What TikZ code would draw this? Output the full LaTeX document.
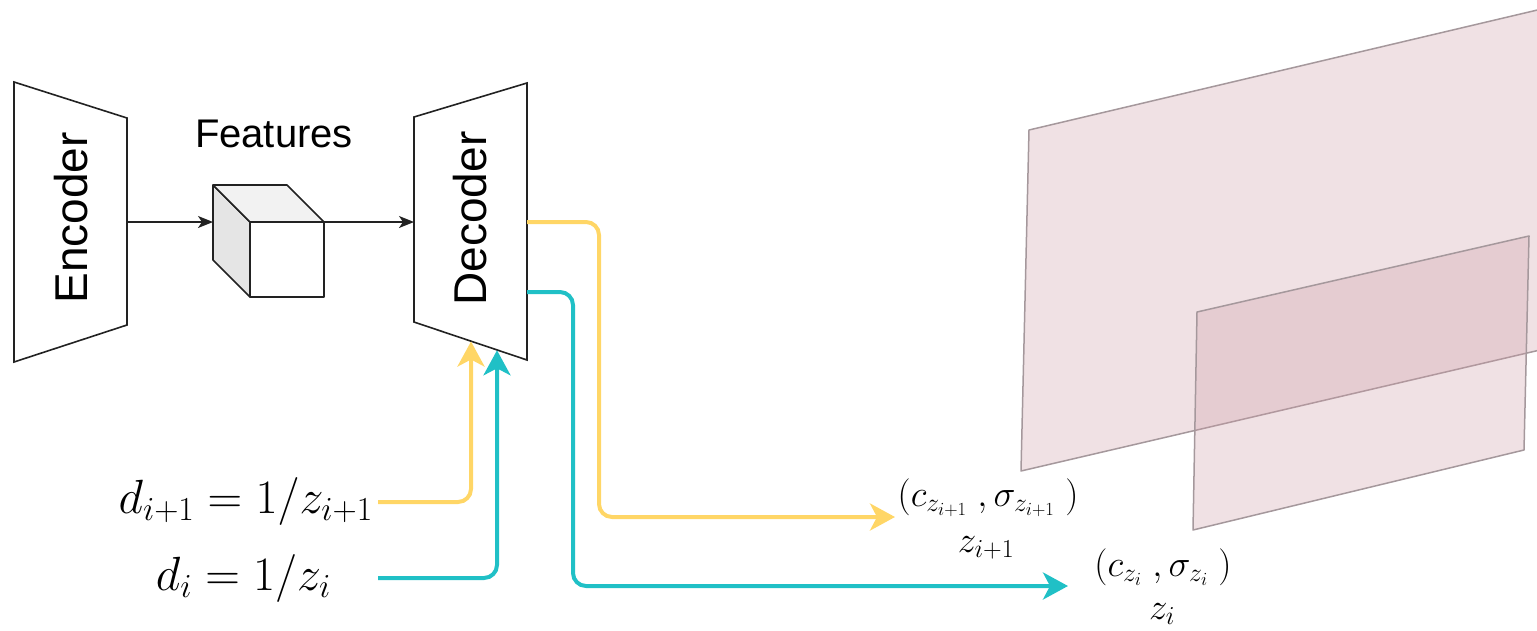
\RequirePackage{fix-cm}
\documentclass[tikz,border=0pt]{standalone}
\usepackage{fontspec}
\newfontfamily\arial{Liberation Sans}
\usetikzlibrary{arrows.meta}
\definecolor{ylw}{RGB}{255,214,102}
\definecolor{cyn}{RGB}{32,192,198}
\definecolor{planefill}{RGB}{205,155,165}
\definecolor{planeedge}{RGB}{165,152,156}
\definecolor{ink}{RGB}{34,34,34}
\begin{document}
\begin{tikzpicture}[x=1pt,y=-1pt,
  block/.style={draw=ink,line width=1.6pt,fill=white,line join=miter},
  face/.style={draw=ink,line width=1.6pt,line join=round},
  blbl/.style={font=\arial\fontsize{46}{50}\selectfont,inner sep=0pt,text=black},
  flbl/.style={font=\arial\fontsize{40}{44}\selectfont,inner sep=0pt,text=black},
  mlab/.style={font=\fontsize{48}{54}\selectfont,inner sep=0pt},
  olab/.style={font=\fontsize{37}{42}\selectfont,inner sep=0pt},
  thin arrow/.style={draw=ink,line width=1.6pt,-{Stealth[length=15pt,width=12pt,inset=4pt]}},
  ywire/.style={draw=ylw,line width=4pt,rounded corners=13pt,-{Stealth[length=25pt,width=27pt,inset=7pt]}},
  cwire/.style={draw=cyn,line width=4pt,rounded corners=13pt,-{Stealth[length=25pt,width=27pt,inset=7pt]}},
  plane/.style={fill=planefill,fill opacity=0.3,draw=planeedge,line width=1.5pt,line join=round}]
\useasboundingbox (0,0) rectangle (1537,630);

% depth planes
\begin{scope}
\clip (0,0) rectangle (1537,630);
\path[plane] (1029,130) -- (1570,2.3) -- (1570,343) -- (1021,471) -- cycle;
\path[plane] (1197,312) -- (1529,236) -- (1524,450) -- (1193,530) -- cycle;
\end{scope}

% encoder
\path[block] (14,82) -- (127,118) -- (127,325) -- (14,362) -- cycle;
\node[blbl,rotate=90] (enc) at (71,218) {Encoder};
\coordinate (encout) at (127,222);

% decoder
\path[block] (414,117) -- (527,83) -- (527,360) -- (414,322) -- cycle;
\node[blbl,rotate=90] (dec) at (470.5,218.5) {Decoder};
\coordinate (decin) at (414,222);
\coordinate (decouty) at (527,222);
\coordinate (decoutc) at (527,292);
\coordinate (decbasey) at (471,341.5);
\coordinate (decbasec) at (497,350.3);

% features cube
\node[flbl,anchor=base] (feat) at (274,147) {Features};
\path[face,fill=gray!20] (213,185) -- (250,222) -- (250,297) -- (213,260) -- cycle;
\path[face,fill=gray!10] (213,185) -- (287,185) -- (324,222) -- (250,222) -- cycle;
\path[face,fill=white] (250,222) rectangle (324,297);
\coordinate (cubein) at (213,222);
\coordinate (cubeout) at (324,222);

\draw[thin arrow] (encout) -- (cubein);
\draw[thin arrow] (cubeout) -- (decin);

% inputs
\node[mlab,anchor=base east] (dy) at (373,513) {$d_{i+1} = 1/z_{i+1}$};
\node[mlab,anchor=base east] (dc) at (331,590) {$d_i = 1/z_i$};
\coordinate (ys) at (378,502);
\coordinate (cs) at (378,578);
\draw[ywire] (ys) -- (471,502) -- (decbasey);
\draw[cwire] (cs) -- (497,578) -- (decbasec);

% outputs
\coordinate (oy) at (895,517);
\coordinate (oc) at (1068,586);
\draw[ywire] (decouty) -- (599,222) -- (599,517) -- (oy);
\draw[cwire] (decoutc) -- (573,292) -- (573,586) -- (oc);

\node[olab,anchor=base] (ty) at (988,506) {$(c_{z_{i+1}}\;,\sigma_{z_{i+1}}\;)$};
\node[olab,anchor=base] (zy) at (986,552) {$z_{i+1}$};
\node[olab,anchor=base] (tc) at (1163,576) {$(c_{z_i}\;,\sigma_{z_i}\;)$};
\node[olab,anchor=base] (zc) at (1162,619) {$z_i$};
\end{tikzpicture}
\end{document}
